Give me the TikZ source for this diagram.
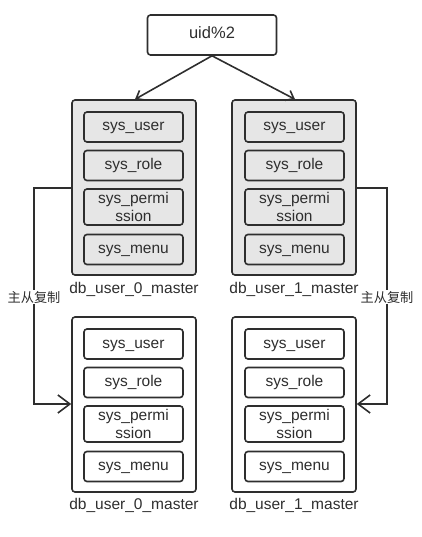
\documentclass[tikz,border=0pt]{standalone}
\usepackage{fontspec}
\setmainfont{Liberation Sans}
\newfontfamily\cjk{Noto Sans CJK SC}
\usetikzlibrary{arrows.meta}
\definecolor{lg}{HTML}{E6E6E6}
\definecolor{ink}{HTML}{2E2E2E}
\tikzset{
  box/.style={draw=ink, line width=1.6pt, rounded corners=3pt},
  cont/.style={box, minimum width=124pt, minimum height=175pt},
  tbl/.style={box, minimum width=99pt, inner sep=0pt, font=\fontsize{15.5}{18}\selectfont, align=center, text=ink},
  one/.style={text height=11pt, text depth=3pt},
  lbl/.style={font=\fontsize{15.5}{17}\selectfont, text=ink},
  conn/.style={draw=ink, line width=1.6pt},
  tarr/.style={conn, -{Straight Barb[length=7pt, width=11pt, line width=1.6pt]}},
  sarr/.style={conn, -{Straight Barb[length=12pt, width=18pt, line width=1.6pt]}},
  cn/.style={font=\cjk\fontsize{13.2}{15}\selectfont, text=ink, fill=white, inner sep=1pt},
}
\begin{document}
\begin{tikzpicture}[x=1pt,y=-1pt]
\useasboundingbox (0,0) rectangle (422,537);
\node[box, one, minimum width=129pt, minimum height=40pt, font=\fontsize{16.5}{18}\selectfont, text=ink] (uid) at (212,35) {uid\%2};
% upper containers
\node[cont, fill=lg] (u0) at (134,187.5) {};
\node[cont, fill=lg] (u1) at (294,187.5) {};
% lower containers
\node[cont, fill=white] (l0) at (134,404.5) {};
\node[cont, fill=white] (l1) at (294,404.5) {};
% tables
\foreach \c/\x/\yo/\f in {a/133.5/0/lg, b/294.5/0/lg, c/133.5/217/white, d/294.5/217/white}{
  \node[tbl, one, fill=\f, minimum height=30pt] (\c1) at (\x,127+\yo) {sys\_user};
  \node[tbl, one, fill=\f, minimum height=30pt] (\c2) at (\x,165.5+\yo) {sys\_role};
  \node[tbl, fill=\f, minimum height=36pt] (\c3) at (\x,207+\yo) {sys\_permi\\ssion};
  \node[tbl, one, fill=\f, minimum height=30pt] (\c4) at (\x,249.5+\yo) {sys\_menu};
}
\node[lbl] (t0) at (134,289) {db\_user\_0\_master};
\node[lbl] (t1) at (294,289) {db\_user\_1\_master};
\node[lbl] (t2) at (134,505) {db\_user\_0\_master};
\node[lbl] (t3) at (294,505) {db\_user\_1\_master};
% top arrows
\coordinate (ua) at (135,99.3);
\coordinate (ub) at (295,99.3);
\draw[tarr] (uid.south) -- (ua);
\draw[tarr] (uid.south) -- (ub);
% replication arrows
\coordinate (lk) at (34,188);
\coordinate (rk) at (387,188);
\draw[sarr] (u0.west |- lk) -| (34,404) -- (l0.west |- 0,404);
\draw[sarr] (u1.east |- rk) -| (387,404) -- (l1.east |- 0,404);
\node[cn] (m0) at (34,297) {主从复制};
\node[cn] (m1) at (387,297) {主从复制};
\end{tikzpicture}
\end{document}
